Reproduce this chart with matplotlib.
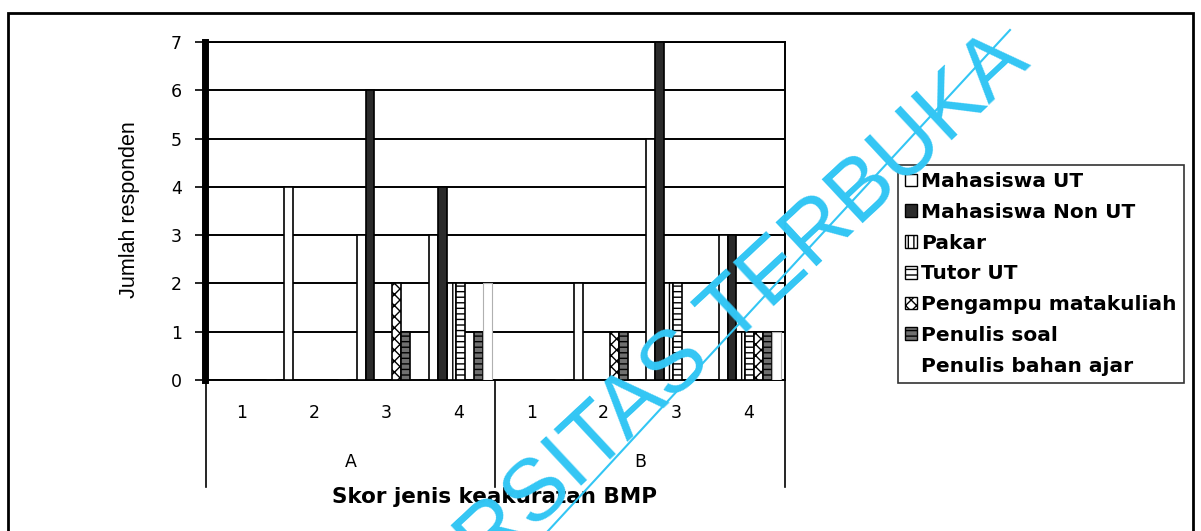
import numpy as np
import matplotlib
matplotlib.use("Agg")
import matplotlib.pyplot as plt
from matplotlib.patches import Patch, Rectangle
from matplotlib.lines import Line2D

# Data: jumlah responden per skor (A1..A4, B1..B4)
kategori = ['1', '2', '3', '4', '1', '2', '3', '4']
grup = ['A', 'B']
seri = ['Mahasiswa UT', 'Mahasiswa Non UT', 'Pakar', 'Tutor UT',
        'Pengampu matakuliah', 'Penulis soal', 'Penulis bahan ajar']

mhs_ut      = [0, 4, 3, 3, 0, 2, 5, 3]
mhs_non_ut  = [0, 0, 6, 4, 0, 0, 7, 3]
pakar       = [0, 0, 0, 2, 0, 0, 2, 1]
tutor_ut    = [0, 0, 0, 2, 0, 0, 2, 1]
pengampu    = [0, 0, 2, 0, 0, 1, 0, 1]
penulis_soal = [0, 0, 1, 1, 0, 1, 0, 1]
penulis_bahan = [0, 0, 0, 2, 0, 0, 0, 1]

nilai = [mhs_ut, mhs_non_ut, pakar, tutor_ut, pengampu, penulis_soal, penulis_bahan]

# gaya tiap seri (warna, hatch)
gaya = [
    dict(facecolor='white', hatch=None, edgecolor='black', lw=1.2),
    dict(facecolor='#2b2b2b', hatch=None, edgecolor='black', lw=1.2),
    dict(facecolor='white', hatch='|||', edgecolor='black', lw=1.2),
    dict(facecolor='white', hatch='---', edgecolor='black', lw=1.2),
    dict(facecolor='white', hatch='xxx', edgecolor='black', lw=1.2),
    dict(facecolor='#707070', hatch='---', edgecolor='black', lw=1.2),
    dict(facecolor='white', hatch=None, edgecolor='#b0b0b0', lw=0.8),
]

W, H = 1201, 531
fig = plt.figure(figsize=(W / 100, H / 100), dpi=100)
plt.rcParams['font.family'] = ['DejaVu Sans']

# kotak luar
fig.patches.append(Rectangle((8 / W, -0.1), (1193 - 8) / W, 1.1 - 13 / H,
                             transform=fig.transFigure, fill=False,
                             edgecolor='black', lw=2))

ax = fig.add_axes([205.5 / W, 1 - 380 / H, (784.7 - 205.5) / W, (380 - 42) / H])

x = np.arange(len(kategori))
lebar = 0.124
for i, (nama, val) in enumerate(zip(seri, nilai)):
    g = gaya[i]
    ax.bar(x + (i - 3) * lebar + 0.02, val, width=lebar, color=g['facecolor'],
           edgecolor=g['edgecolor'], hatch=g['hatch'], linewidth=g['lw'],
           zorder=3)

ax.set_xlim(-0.5, 7.5)
ax.set_ylim(0, 7)
ax.set_yticks(range(0, 8))
ax.yaxis.grid(True, color='black', lw=1.4)
ax.set_axisbelow(True)
ax.tick_params(axis='y', length=7, width=1.2, direction='out', labelsize=12.5, pad=10)
ax.set_xticks(x)
ax.set_xticklabels(kategori)
ax.tick_params(axis='x', length=0, labelsize=12.5, pad=17)

for s in ['top', 'right', 'bottom']:
    ax.spines[s].set_linewidth(1.4)
ax.spines['left'].set_linewidth(5)

# garis pemisah grup dan label grup
tr = ax.get_xaxis_transform()
yb = -(487 - 380) / 338
for xv in [-0.5, 3.5, 7.5]:
    ax.add_line(Line2D([xv, xv], [0, yb], transform=tr, color='black',
                       lw=1.2, clip_on=False))
ax.text(1.5, -(462 - 380) / 338, grup[0], transform=tr, ha='center',
        va='center', fontsize=12.5)
ax.text(5.5, -(462 - 380) / 338, grup[1], transform=tr, ha='center',
        va='center', fontsize=12.5)

fig.text(495 / W, 1 - 497 / H, 'Skor jenis keakuratan BMP', ha='center',
         va='center', fontsize=15.5, fontweight='bold')
fig.text(130 / W, 1 - 210 / H, 'Jumlah responden', rotation=90, ha='center',
         va='center', fontsize=15.5, family=['Liberation Sans Narrow', 'Liberation Sans'])

# legenda
handles = []
for i, nama in enumerate(seri):
    g = gaya[i]
    if i == 6:
        handles.append(Patch(facecolor='none', edgecolor='none', label=nama))
    else:
        handles.append(Patch(facecolor=g['facecolor'], edgecolor='black',
                             hatch=g['hatch'], label=nama))
leg = fig.legend(handles=handles, loc='upper left',
                 bbox_to_anchor=(898 / W, 1 - 165 / H), frameon=True,
                 fancybox=False, edgecolor='black',
                 prop=dict(family='DejaVu Sans', weight='bold', size=14.5),
                 handlelength=0.6, handleheight=0.6, handletextpad=0.2,
                 labelspacing=0.585, borderpad=0.35, borderaxespad=0)
leg.get_frame().set_linewidth(1.2)

# tanda air
fig.text(1032 / W, 1 - 65 / H, 'UNIVERSITAS TERBUKA', rotation=43,
         rotation_mode='anchor', ha='right', va='baseline', fontsize=63,
         color='#33c6f4', zorder=10, family='Liberation Sans')
fig.add_artist(Line2D([548 / W, 1010 / W], [1 - 531 / H, 1 - 30 / H],
                      transform=fig.transFigure, color='#33c6f4', lw=1.5,
                      zorder=10))

fig.savefig('out.png', dpi=100)
plt.close(fig)
